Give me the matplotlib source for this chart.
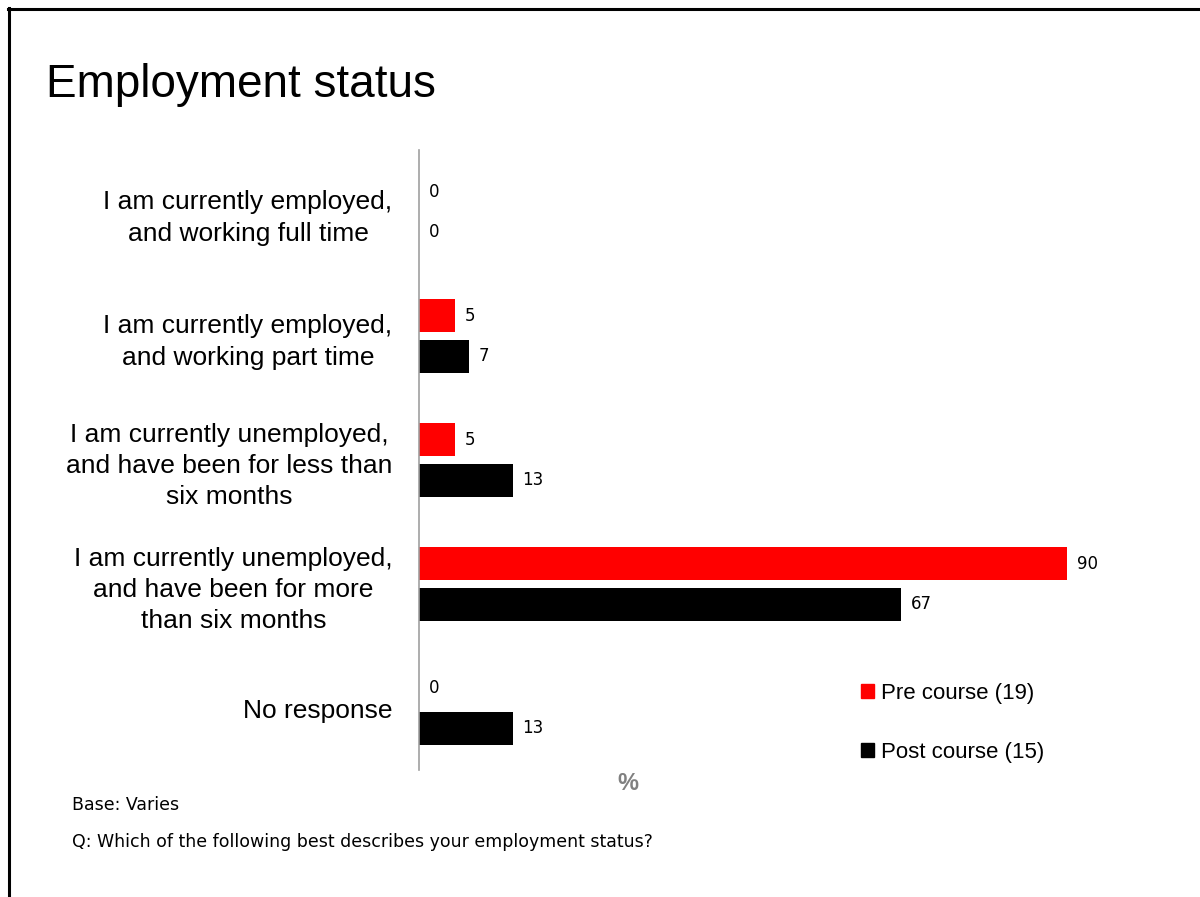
import matplotlib.pyplot as plt
from matplotlib.lines import Line2D
from matplotlib.patches import Patch

# survey answers, top to bottom
categories = [
    "I am currently employed,\nand working full time",
    "I am currently employed,\nand working part time",
    "I am currently unemployed,\nand have been for less than\nsix months",
    "I am currently unemployed,\nand have been for more\nthan six months",
    "No response",
]
pre_course = [0, 5, 5, 90, 0]
post_course = [0, 7, 13, 67, 13]

pre_label = "Pre course (19)"
post_label = "Post course (15)"

RED = "#ff0000"
BLACK = "#000000"

plt.rcParams['font.family'] = ['Liberation Sans', 'DejaVu Sans']

fig = plt.figure(figsize=(12, 8.97), dpi=100)

# slide frame (top and left edges only)
fig.add_artist(Line2D([8 / 1200, 1], [1 - 9 / 897] * 2, color='black', lw=2.2))
fig.add_artist(Line2D([9 / 1200] * 2, [0, 1 - 8 / 897], color='black', lw=2.2))

fig.text(46 / 1200, 1 - 85 / 897, "Employment status", fontsize=33,
         ha='left', va='center')

ax = fig.add_axes([419 / 1200, 1 - 770 / 897, 720 / 1200, 620 / 897])

ypos = list(range(len(categories)))
h = 0.26
off = 0.165
pre_y = [y - off for y in ypos]
post_y = [y + off for y in ypos]
ax.barh(pre_y, pre_course, height=h, color=RED, label=pre_label)
ax.barh(post_y, post_course, height=h, color=BLACK, label=post_label)

for y, v in zip(pre_y, pre_course):
    ax.annotate(str(v), (v, y), xytext=(7, 0), textcoords='offset points',
                ha='left', va='center', fontsize=12, family='DejaVu Sans')
for y, v in zip(post_y, post_course):
    ax.annotate(str(v), (v, y), xytext=(7, 0), textcoords='offset points',
                ha='left', va='center', fontsize=12, family='DejaVu Sans')

ax.set_xlim(0, 100)
ax.set_ylim(len(categories) - 0.5, -0.5)
ax.set_yticks(ypos)
ax.set_yticklabels(categories, fontsize=19, linespacing=1.38,
                   multialignment='center')
ax.tick_params(axis='y', length=0, pad=19)
ax.set_xticks([])
for s in ['top', 'right', 'bottom']:
    ax.spines[s].set_visible(False)
ax.spines['left'].set_color('#a0a0a0')
ax.spines['left'].set_linewidth(1.2)

fig.text(628 / 1200, 1 - 783 / 897, "%", fontsize=17, fontweight='bold',
         color='#808080', ha='center', va='center')

# legend entries stacked with wide spacing
handles = [Patch(color=RED, label=pre_label), Patch(color=BLACK, label=post_label)]
fig.legend(handles=handles, loc='center left',
           bbox_to_anchor=(841 / 1200, 1 - 723 / 897), frameon=False,
           fontsize=16, handlelength=0.6, handleheight=0.6,
           handletextpad=0.3, labelspacing=1.7)

fig.text(72 / 1200, 1 - 805 / 897, "Base: Varies", fontsize=12.5,
         ha='left', va='center', family='DejaVu Sans')
fig.text(72 / 1200, 1 - 842 / 897,
         "Q: Which of the following best describes your employment status?",
         fontsize=12.5, ha='left', va='center', family='DejaVu Sans')

fig.savefig('out.png', dpi=100, facecolor='white')
